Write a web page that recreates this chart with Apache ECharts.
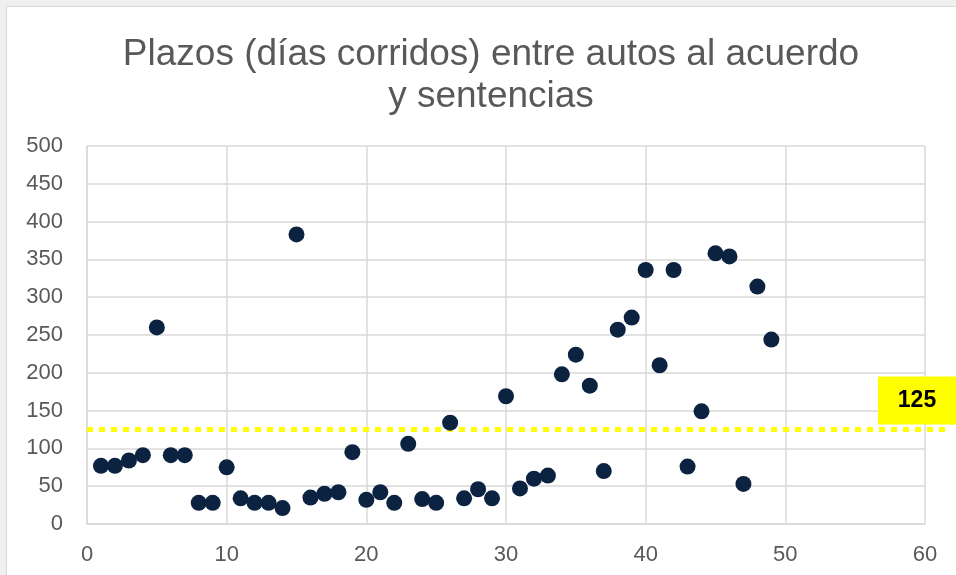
<!DOCTYPE html>
<html>
<head>
<meta charset="utf-8">
<script src="https://cdn.jsdelivr.net/npm/echarts@6/dist/echarts.min.js"></script>
<style>
html,body{margin:0;padding:0;background:#f0f0f0;width:956px;height:575px;overflow:hidden;}
#frame{position:absolute;left:6px;top:6px;width:960px;height:580px;background:#fff;border:1px solid #d9d9d9;}
#chart{position:absolute;left:0;top:0;width:956px;height:575px;}
</style>
</head>
<body>
<div id="frame"></div>
<div id="chart"></div>
<script>
const titleText = "Plazos (días corridos) entre autos al acuerdo\ny sentencias";
const xValues = [1,2,3,4,5,6,7,8,9,10,11,12,13,14,15,16,17,18,19,20,21,22,23,24,25,26,27,28,29,30,31,32,33,34,35,36,37,38,39,40,41,42,43,44,45,46,47,48,49];
const yValues = [77,77,84,91,260,91,91,28,28,75,34,28,28,21,383,35,40,42,95,32,42,28,106,33,28,134,34,46,34,169,47,60,64,198,224,183,70,257,273,336,210,336,76,149,358,354,53,314,244];
const thresholdValue = 125;
const thresholdX = [0, 61.4];
const xTicks = {min:0, max:60, interval:10};
const yTicks = {min:0, max:500, interval:50};

const points = xValues.map((x,i)=>[x, yValues[i]]);
const FONT = 'Liberation Sans, Arial, sans-serif';

const lineData = [
  {value:[thresholdX[0], thresholdValue], label:{show:false}},
  {
    value:[thresholdX[1], thresholdValue],
    label:{
      show:true, position:'inside', offset:[-28,-29],
      formatter:String(thresholdValue),
      color:'#000', fontSize:23, fontWeight:'bold', fontFamily:FONT,
      backgroundColor:'#ffff00', padding:[12,19,13,19], width:40, align:'center'
    }
  }
];

const chart = echarts.init(document.getElementById('chart'), null, {renderer:'canvas'});
const axisLabelStyle = {color:'#595959', fontSize:22, fontFamily:FONT};
chart.setOption({
  animation:false,
  backgroundColor:'transparent',
  title:{
    text:titleText,
    left:486, top:29, textAlign:'center',
    textStyle:{color:'#595959', fontSize:37, fontWeight:'normal', fontFamily:FONT, lineHeight:42}
  },
  grid:[
    {left:87, right:31, top:146, bottom:51, containLabel:false},
    {left:87, right:11, top:146, bottom:51, containLabel:false}
  ],
  xAxis:[{
    type:'value', gridIndex:0, min:xTicks.min, max:xTicks.max, interval:xTicks.interval,
    axisLine:{show:true, lineStyle:{color:'#d9d9d9', width:1.5}},
    axisTick:{show:false},
    axisLabel:Object.assign({margin:20}, axisLabelStyle),
    splitLine:{show:true, lineStyle:{color:'#d9d9d9', width:1.5}}
  },{
    type:'value', gridIndex:1, min:thresholdX[0], max:thresholdX[1], show:false
  }],
  yAxis:[{
    type:'value', gridIndex:0, min:yTicks.min, max:yTicks.max, interval:yTicks.interval,
    axisLine:{show:true, lineStyle:{color:'#d9d9d9', width:1.5}},
    axisTick:{show:false},
    axisLabel:Object.assign({margin:24}, axisLabelStyle),
    splitLine:{show:true, lineStyle:{color:'#d9d9d9', width:1.5}}
  },{
    type:'value', gridIndex:1, min:yTicks.min, max:yTicks.max, show:false
  }],
  series:[
    {
      type:'line',
      xAxisIndex:1, yAxisIndex:1,
      data:lineData,
      symbol:'circle',
      symbolSize:0,
      showSymbol:true,
      lineStyle:{color:'#ffff00', width:5, type:[6,6]},
      itemStyle:{color:'#ffff00'},
      z:1
    },
    {
      type:'scatter',
      xAxisIndex:0, yAxisIndex:0,
      data:points,
      symbolSize:16,
      itemStyle:{color:'#0b2240', opacity:1},
      z:3
    }
  ]
});
</script>
</body>
</html>
